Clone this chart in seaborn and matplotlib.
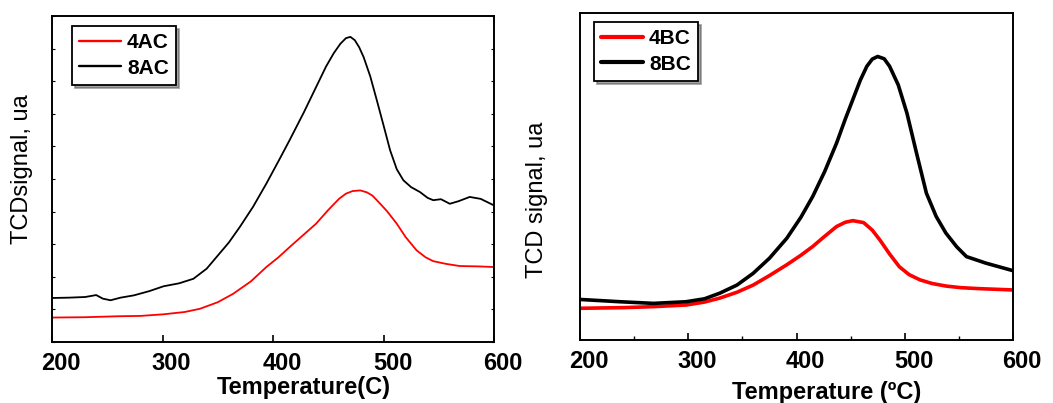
import numpy as np
import pandas as pd
import seaborn as sns
import matplotlib.pyplot as plt
from matplotlib.transforms import ScaledTranslation
from matplotlib.ticker import MultipleLocator, NullFormatter

# --- TPR profiles, series A (temperature in C, TCD signal in arbitrary units) ---
temp_8ac = [200, 215, 230, 240, 246, 253, 262, 274, 288, 301, 315, 328, 340, 349, 360,
            370, 382, 394, 405, 415, 428, 439, 448, 455, 461, 466, 470, 474, 478, 482, 488, 494,
            500, 506, 512, 518, 525, 533, 540, 545, 552, 560, 568, 578, 588, 600]
sig_8ac = [13.5, 13.6, 13.8, 14.4, 13.3, 12.8, 13.6, 14.3, 15.6, 17.1, 18.0, 19.4, 22.5, 26.1, 30.5,
           35.3, 41.5, 48.6, 55.5, 61.9, 70.5, 78.2, 84.5, 88.6, 91.5, 93.2, 93.6, 92.6, 90.4, 87.4, 81.5, 74.1,
           66.5, 58.8, 53.0, 49.6, 47.5, 46.0, 44.2, 43.5, 43.8, 42.4, 43.2, 44.5, 43.9, 41.9]

temp_4ac = [200, 230, 260, 280, 301, 320, 334, 350, 364, 380, 394, 405, 415, 428, 439,
            450, 460, 466, 472, 479, 485, 490, 494, 503, 512, 520, 530, 538, 545, 556, 569, 585, 600]
sig_4ac = [7.5, 7.6, 7.9, 8.0, 8.5, 9.2, 10.2, 12.2, 14.8, 18.6, 23.0, 26.0, 29.1, 33.0, 36.3,
           40.5, 44.0, 45.5, 46.3, 46.5, 45.9, 44.9, 43.5, 40.2, 36.3, 32.2, 28.1, 26.0, 24.8, 24.0, 23.3, 23.2, 23.0]

# --- TPR profiles, series B ---
temp_8bc = [200, 237, 268, 298, 315, 329, 345, 360, 375, 391, 404, 415, 426, 437, 445,
            452, 459, 465, 470, 475, 481, 486, 494, 502, 511, 520, 529, 538, 548, 557,
            575, 600]
sig_8bc = [12.4, 11.7, 11.2, 11.7, 12.6, 14.3, 16.8, 20.4, 25.0, 31.1, 37.5, 43.9, 51.5, 60.2, 67.5,
           73.5, 79.5, 83.7, 85.9, 86.7, 86.0, 83.7, 78.0, 69.4, 57.0, 44.9, 37.8, 32.7, 28.5, 25.5,
           23.5, 21.2]

temp_4bc = [200, 240, 268, 298, 315, 329, 345, 360, 375, 391, 404, 415, 426, 437, 445,
            452, 462, 470, 477, 486, 495, 504, 514, 525, 538, 552, 569, 585, 600]
sig_4bc = [9.7, 9.9, 10.2, 10.7, 11.6, 12.8, 14.6, 16.8, 19.7, 23.0, 25.9, 28.6, 31.7, 34.7, 36.0,
           36.5, 35.9, 33.6, 30.6, 26.3, 22.4, 20.0, 18.4, 17.3, 16.5, 16.0, 15.7, 15.5, 15.3]

x_ticks = [200, 300, 400, 500, 600]

panels = [
    dict(series=[("4AC", temp_4ac, sig_4ac), ("8AC", temp_8ac, sig_8ac)],
         xlabel="Temperature(C)", ylabel="TCDsignal, ua", lw=1.3,
         rect=[52 / 1053, 61 / 403, 442 / 1053, 326 / 403],
         legend_anchor=(0.045, 0.969), ytick_marks=True, xminor=False,
         xlabel_pos=(0.57, -0.105), ylabel_pos=(-0.043, 0.53)),
    dict(series=[("4BC", temp_4bc, sig_4bc), ("8BC", temp_8bc, sig_8bc)],
         xlabel="Temperature (ºC)", ylabel="TCD signal, ua", lw=2.6,
         rect=[580 / 1053, 63 / 403, 433 / 1053, 327 / 403],
         legend_anchor=(0.032, 0.972), ytick_marks=False, xminor=True,
         xlabel_pos=(0.57, -0.125), ylabel_pos=(-0.074, 0.43)),
]

sns.set_theme(style="ticks")
plt.rcParams["font.family"] = ["Liberation Sans", "DejaVu Sans"]
plt.rcParams.update({"text.color": "black", "axes.labelcolor": "black",
                     "xtick.color": "black", "ytick.color": "black",
                     "axes.edgecolor": "black"})

fig = plt.figure(figsize=(10.53, 4.03), dpi=100)
fig.patch.set_facecolor("white")

colors = {"4": "#ff0000", "8": "#000000"}

for p in panels:
    ax = fig.add_axes(p["rect"])
    frames = []
    for name, t, s in p["series"]:
        frames.append(pd.DataFrame({"T": t, "signal": s, "sample": name}))
    df = pd.concat(frames, ignore_index=True)
    palette = {name: colors[name[0]] for name, _, _ in p["series"]}
    sns.lineplot(data=df, x="T", y="signal", hue="sample", palette=palette,
                 linewidth=p["lw"], ax=ax, sort=False, estimator=None)

    ax.set_xlim(200, 600)
    ax.set_ylim(0, 100)
    ax.set_xticks(x_ticks)
    ax.set_xticklabels([str(v) for v in x_ticks])
    if p["xminor"]:
        ax.xaxis.set_minor_locator(MultipleLocator(50))
    ax.tick_params(axis="x", which="major", direction="in", length=5, width=1.2,
                   labelsize=17, pad=7, top=False, colors="black")
    ax.tick_params(axis="x", which="minor", direction="in", length=3, width=1.0, top=False)
    if p["ytick_marks"]:
        ax.yaxis.set_major_locator(MultipleLocator(10))
        ax.yaxis.set_major_formatter(NullFormatter())
        ax.tick_params(axis="y", direction="in", length=2, width=0.8, right=True)
    else:
        ax.set_yticks([])
    for lab in ax.get_xticklabels():
        lab.set_fontweight("bold")
        lab.set_color("black")
        lab.set_transform(lab.get_transform() + ScaledTranslation(0.09, 0, fig.dpi_scale_trans))

    for sp in ax.spines.values():
        sp.set_visible(True)
        sp.set_color("black")
        sp.set_linewidth(1.4)

    ax.set_xlabel(p["xlabel"], fontsize=17, fontweight="bold", va="top", color="black")
    ax.xaxis.set_label_coords(*p["xlabel_pos"])
    ax.set_ylabel(p["ylabel"], fontsize=17, color="black")
    ax.yaxis.set_label_coords(*p["ylabel_pos"])

    handles, labels = ax.get_legend_handles_labels()
    leg = ax.legend(handles, labels, loc="upper left", bbox_to_anchor=p["legend_anchor"],
                    frameon=True, fancybox=False, shadow=True,
                    prop={"weight": "bold", "size": 15}, handlelength=2.0,
                    handletextpad=0.3, borderpad=0.35, labelspacing=0.3,
                    borderaxespad=0.0, labelcolor="black")
    leg.get_frame().set_edgecolor("black")
    leg.get_frame().set_linewidth(1.3)
    for line in leg.get_lines():
        line.set_linewidth(p["lw"] + 0.4)

fig.savefig("out.png", dpi=100, facecolor="white")
